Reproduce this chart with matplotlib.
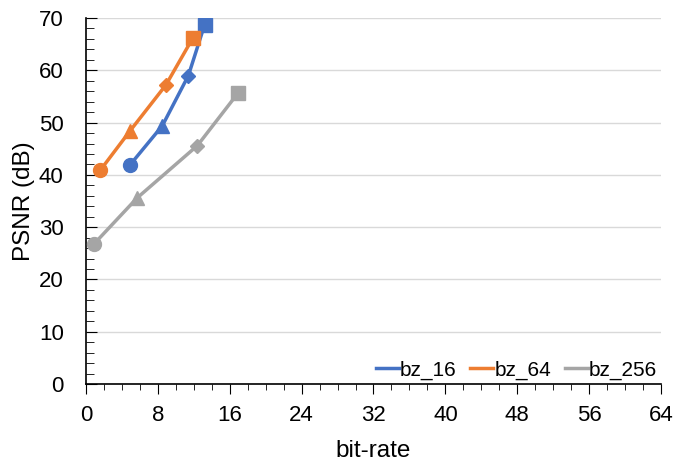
import matplotlib.pyplot as plt
from matplotlib.ticker import MultipleLocator

plt.rcParams['font.family'] = ['Liberation Sans', 'DejaVu Sans']

series_names = ['bz_16', 'bz_64', 'bz_256']
bz16_rate = [4.9, 8.5, 11.4, 13.2]
bz16_psnr = [41.9, 49.4, 59.0, 68.7]
bz64_rate = [1.6, 4.9, 8.9, 11.9]
bz64_psnr = [40.9, 48.4, 57.2, 66.2]
bz256_rate = [0.9, 5.7, 12.4, 16.9]
bz256_psnr = [26.8, 35.6, 45.6, 55.6]

colors = ['#4472C4', '#ED7D31', '#A5A5A5']
markers = ['o', '^', 'D', 's']
sizes = [10, 10, 7.5, 10]

fig = plt.figure(figsize=(6.85, 4.62), dpi=100)
ax = fig.add_axes([0.1255, 0.1688, 0.8395, 0.7922])

data = [(bz16_rate, bz16_psnr), (bz64_rate, bz64_psnr), (bz256_rate, bz256_psnr)]
for (x, y), name, c in zip(data, series_names, colors):
    ax.plot(x, y, color=c, lw=2.5, label=name, zorder=3)
    for xi, yi, m, s in zip(x, y, markers, sizes):
        ax.plot(xi, yi, marker=m, ms=s, color=c, ls='none', zorder=4)

ax.set_xlim(0, 64)
ax.set_ylim(0, 70)
ax.xaxis.set_major_locator(MultipleLocator(8))
ax.xaxis.set_minor_locator(MultipleLocator(2))
ax.yaxis.set_major_locator(MultipleLocator(10))
ax.yaxis.set_minor_locator(MultipleLocator(2))
ax.tick_params(axis='x', which='major', direction='out', length=7, labelsize=16, pad=8)
ax.tick_params(axis='x', which='minor', direction='out', length=4)
ax.tick_params(axis='y', which='major', direction='in', length=8, labelsize=16, pad=16)
ax.tick_params(axis='y', which='minor', direction='in', length=6)
ax.grid(axis='y', color='#D9D9D9', lw=1)
ax.set_axisbelow(True)
for s in ['top', 'right']:
    ax.spines[s].set_visible(False)
ax.spines['left'].set_linewidth(1.2)
ax.spines['bottom'].set_linewidth(1.2)

ax.set_xlabel('bit-rate', fontsize=17.5, labelpad=10)
ax.set_ylabel('PSNR (dB)', fontsize=17.5, labelpad=3)

ax.legend(loc='lower right', ncol=3, frameon=False, fontsize=15,
          handlelength=1.1, handletextpad=0.05, columnspacing=0.65,
          borderaxespad=0, borderpad=0.2,
          bbox_to_anchor=(1.0, 0.0))

fig.savefig('out.png', dpi=100)
